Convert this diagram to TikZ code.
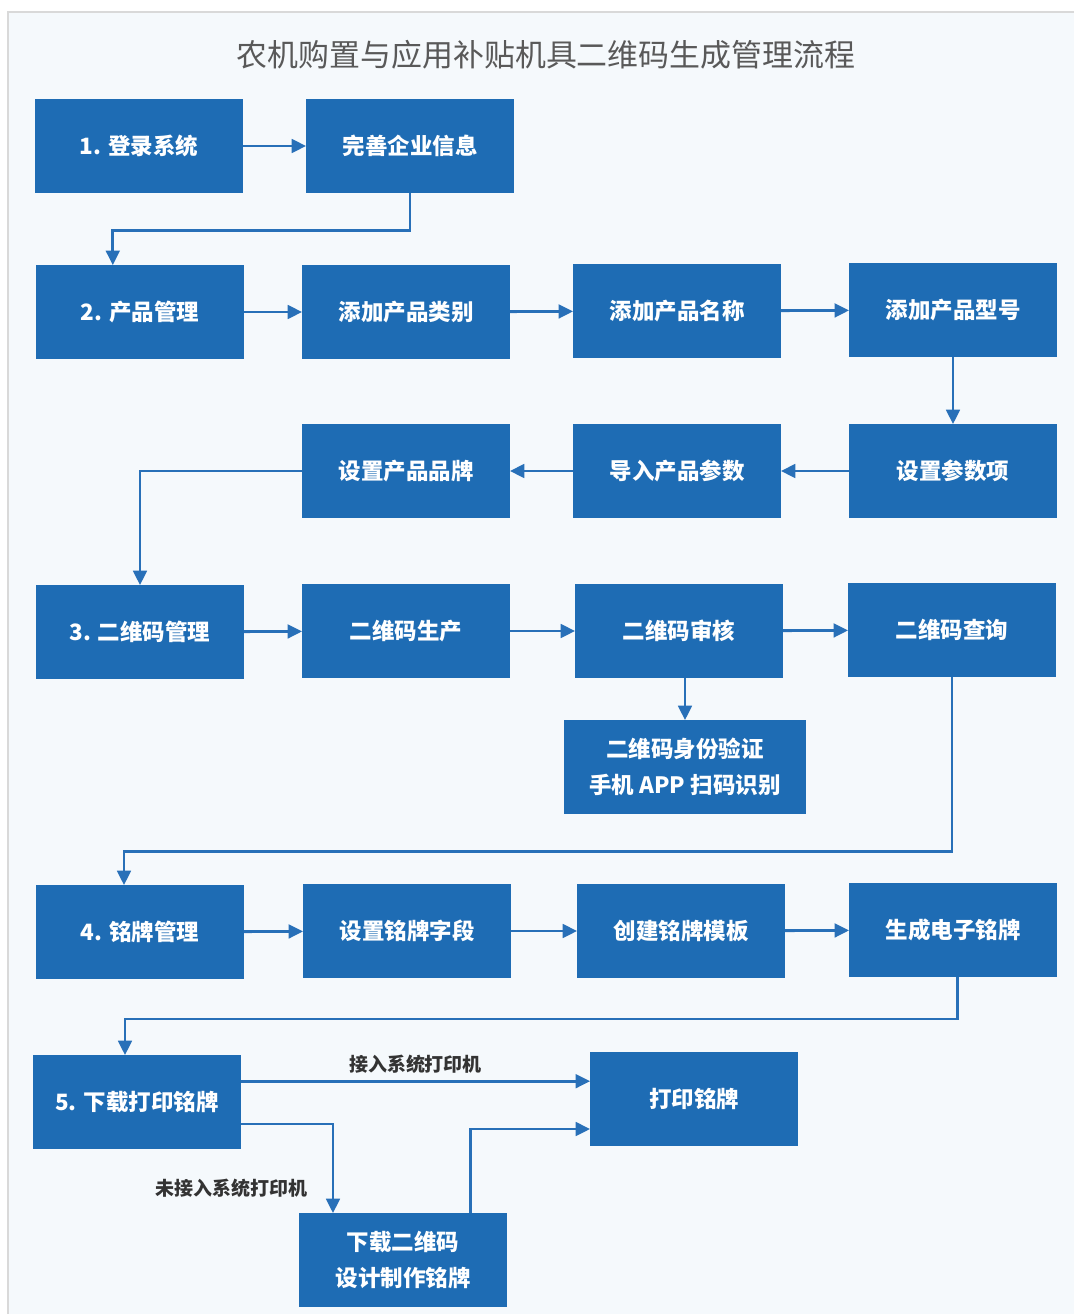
\documentclass[tikz,border=0pt]{standalone}
\usepackage{fontspec}
\usepackage{xcolor}
\usepackage{tikz}
\usetikzlibrary{positioning, arrows.meta}
\newfontfamily\cjk{Noto Sans CJK SC}
\definecolor{boxblue}{RGB}{30,108,180}
\definecolor{lineblue}{RGB}{40,112,184}
\definecolor{panel}{RGB}{245,249,252}

\begin{document}
\begin{tikzpicture}[x=0.025cm, y=-0.025cm,
    box/.style={rectangle, fill=boxblue, text=white, minimum width=5.18cm,
                minimum height=2.33cm, align=center, inner sep=2pt,
                font=\cjk\bfseries\fontsize{16}{26}\selectfont},
    lbl/.style={font=\cjk\bfseries\fontsize{13.5}{16}\selectfont, text=black!80},
    arrow/.style={-{Triangle[length=3.6mm, width=3.4mm]}, line width=2pt, draw=lineblue}]
  \useasboundingbox (0,0) rectangle (1073,1314);
  \fill[white] (0,0) rectangle (1073,1314);
  \draw[fill=panel, draw=black!15, line width=1.2pt] (8,12) rectangle (1080,1320);

  \node[font=\cjk\fontsize{22}{26}\selectfont, text=black!65] (title) at (546,55)
        {农机购置与应用补贴机具二维码生成管理流程};

  % 1. login
  \node[box] (login) at (139,146) {1. 登录系统};
  \node[box] (info) at (410,146) {完善企业信息};
  % 2. products
  \node[box] (prod) at (140,312) {2. 产品管理};
  \node[box] (cat) at (406,312) {添加产品类别};
  \node[box] (name) at (677,311) {添加产品名称};
  \node[box] (model) at (953,310) {添加产品型号};
  \node[box] (param) at (953,471) {设置参数项};
  \node[box] (import) at (677,471) {导入产品参数};
  \node[box] (brand) at (406,471) {设置产品品牌};
  % 3. qr codes
  \node[box] (qr) at (140,632) {3. 二维码管理};
  \node[box] (qrgen) at (406,631) {二维码生产};
  \node[box] (qraud) at (679,631) {二维码审核};
  \node[box] (qrquery) at (952,630) {二维码查询};
  \node[box, minimum width=6.05cm] (verify) at (685,767)
        {二维码身份验证\\手机 APP 扫码识别};
  % 4. plates
  \node[box] (plate) at (140,932) {4. 铭牌管理};
  \node[box] (field) at (407,931) {设置铭牌字段};
  \node[box] (tmpl) at (681,931) {创建铭牌模板};
  \node[box] (eplate) at (953,930) {生成电子铭牌};
  % 5. print
  \node[box] (dl) at (137,1102) {5. 下载打印铭牌};
  \node[box] (print) at (694,1099) {打印铭牌};
  \node[box] (design) at (403,1260) {下载二维码\\设计制作铭牌};

  \draw[arrow] (login) -- (info);
  \draw[arrow] (info.south) -- ++(0,38) -| ([xshift=-0.68cm]prod.north);
  \draw[arrow] (prod) -- (cat);
  \draw[arrow] (cat) -- (name);
  \draw[arrow] (name) -- (model);
  \draw[arrow] (model) -- (param);
  \draw[arrow] (param) -- (import);
  \draw[arrow] (import) -- (brand);
  \draw[arrow] (brand.west) -| (qr.north);
  \draw[arrow] (qr) -- (qrgen);
  \draw[arrow] (qrgen) -- (qraud);
  \draw[arrow] (qraud) -- (qrquery);
  \draw[arrow] ([xshift=0.15cm]qraud.south) -- ([xshift=0.15cm]qraud.south |- verify.north);
  \draw[arrow] (qrquery.south) -- ++(0,175) -| ([xshift=-0.4cm]plate.north);
  \draw[arrow] (plate) -- (field);
  \draw[arrow] (field) -- (tmpl);
  \draw[arrow] (tmpl) -- (eplate);
  \draw[arrow] ([xshift=0.12cm]eplate.south) -- ++(0,42) -| ([xshift=-0.3cm]dl.north);
  \draw[arrow] ([yshift=0.52cm]dl.east) -- ([yshift=0.52cm]dl.east -| print.west)
        node[lbl, midway, above=1pt] (lblyes) {接入系统打印机};
  \draw[arrow] ([yshift=-0.55cm]dl.east) -| ([xshift=-1.75cm]design.north)
        node[lbl, pos=0.86, left=14pt] (lblno) {未接入系统打印机};
  \draw[arrow] ([xshift=1.68cm]design.north) |- ([yshift=-0.75cm]print.west);
\end{tikzpicture}
\end{document}
